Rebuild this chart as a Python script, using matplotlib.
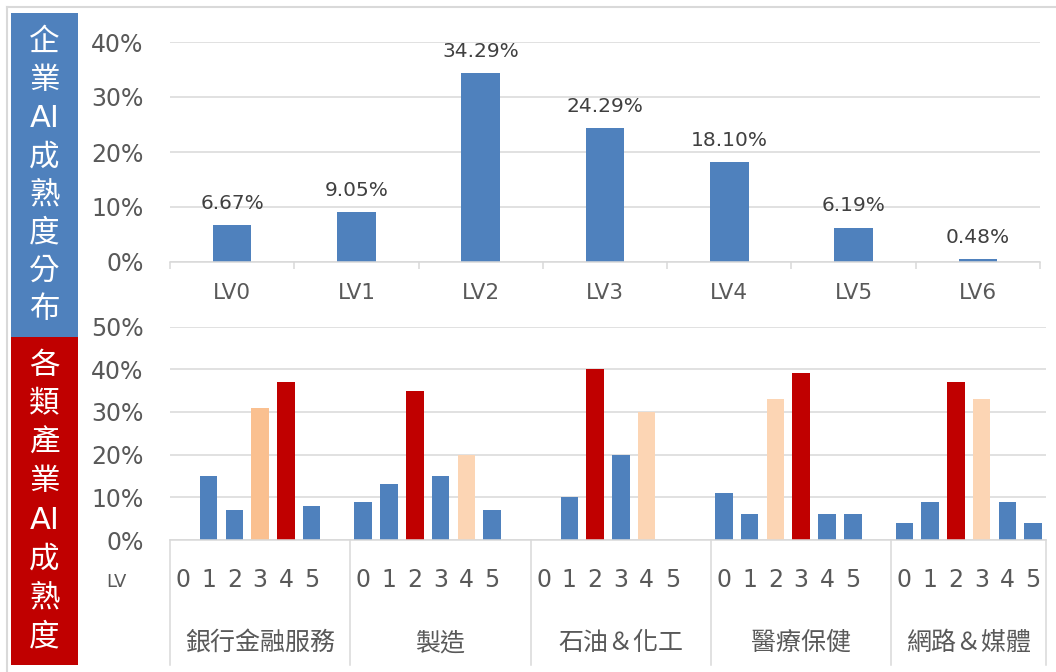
import matplotlib
matplotlib.use("Agg")
import matplotlib.pyplot as plt
import matplotlib.transforms as mtransforms
from matplotlib.ticker import PercentFormatter, FixedLocator

plt.rcParams["font.family"] = ["DejaVu Sans", "Noto Sans CJK TC"]

# --- Data ---
levels = ["LV0", "LV1", "LV2", "LV3", "LV4", "LV5", "LV6"]
distribution = [6.67, 9.05, 34.29, 24.29, 18.10, 6.19, 0.48]

industries = ["銀行金融服務", "製造", "石油＆化工", "醫療保健", "網路＆媒體"]
sub_levels = ["0", "1", "2", "3", "4", "5"]
banking = [0, 15, 7, 31, 37, 8]
manufacturing = [9, 13, 35, 15, 20, 7]
petrochem = [0, 10, 40, 20, 30, 0]
healthcare = [11, 6, 33, 39, 6, 6]
media = [4, 9, 37, 33, 9, 4]
industry_values = [banking, manufacturing, petrochem, healthcare, media]

top_title = ["企", "業", "AI", "成", "熟", "度", "分", "布"]
bottom_title = ["各", "類", "產", "業", "AI", "成", "熟", "度"]

# --- Styles ---
BLUE = "#4F81BD"
RED = "#C00000"
PEACH = "#FAC090"
LIGHT_PEACH = "#FCD5B4"
GRID = "#D9D9D9"
TEXT = "#595959"
LABEL = "#404040"
industry_colors = [
    [BLUE, BLUE, BLUE, PEACH, RED, BLUE],
    [BLUE, BLUE, RED, BLUE, LIGHT_PEACH, BLUE],
    [BLUE, BLUE, RED, BLUE, LIGHT_PEACH, BLUE],
    [BLUE, BLUE, LIGHT_PEACH, RED, BLUE, BLUE],
    [BLUE, BLUE, RED, LIGHT_PEACH, BLUE, BLUE],
]

W, H = 1056, 672


def px(x0, y0, x1, y1):
    """Pixel box (top-left origin) to figure fraction rect."""
    return [x0 / W, 1 - y1 / H, (x1 - x0) / W, (y1 - y0) / H]


fig = plt.figure(figsize=(W / 100, H / 100), dpi=100)

# outer frame (left and top edges visible)
fig.add_artist(plt.Line2D([7 / W, 7 / W], [0, 1 - 7 / H], transform=fig.transFigure, color=GRID, lw=1.5))
fig.add_artist(plt.Line2D([7 / W, 1], [1 - 7 / H, 1 - 7 / H], transform=fig.transFigure, color=GRID, lw=1.5))

# side panels
fig.add_artist(plt.Rectangle((11 / W, 1 - 337 / H), 67 / W, 324 / H, transform=fig.transFigure, color=BLUE, lw=0))
fig.add_artist(plt.Rectangle((11 / W, 1 - 665 / H), 67 / W, 328 / H, transform=fig.transFigure, color=RED, lw=0))
for i, ch in enumerate(top_title):
    fig.text(44.5 / W, 1 - (42 + i * 38.2) / H, ch, color="white", fontsize=22,
             ha="center", va="center")
for i, ch in enumerate(bottom_title):
    fig.text(44.5 / W, 1 - (365 + i * 38.9) / H, ch, color="white", fontsize=22,
             ha="center", va="center")


def style_axis(ax, ymax):
    ax.set_ylim(0, ymax)
    ax.yaxis.set_major_locator(FixedLocator(list(range(0, ymax + 1, 10))))
    ax.yaxis.set_major_formatter(PercentFormatter(100, decimals=0))
    ax.grid(axis="y", color=GRID, lw=1.1)
    ax.set_axisbelow(True)
    for s in ["left", "right", "top"]:
        ax.spines[s].set_visible(False)
    ax.spines["bottom"].set_color(GRID)
    ax.spines["bottom"].set_linewidth(1.1)
    ax.tick_params(axis="y", length=0, pad=19, labelsize=17, labelcolor=TEXT)


# --- Top chart: overall distribution ---
ax1 = fig.add_axes(px(170, 42, 1040, 262))
x_top = list(range(len(levels)))
bars = ax1.bar(x_top, distribution, width=0.31, color=BLUE)
ax1.set_xlim(-0.5, len(levels) - 0.5)
style_axis(ax1, 40)
ax1.set_xticks(x_top)
ax1.set_xticklabels(levels)
ax1.tick_params(axis="x", which="major", length=0, pad=15, labelsize=15.5, labelcolor=TEXT)
ax1.set_xticks([i - 0.5 for i in range(len(levels) + 1)], minor=True)
ax1.tick_params(axis="x", which="minor", length=5, width=1.1, color=GRID, direction="out")
for b, v in zip(bars, distribution):
    ax1.annotate(f"{v:.2f}%", (b.get_x() + b.get_width() / 2, v), xytext=(0, 9),
                 textcoords="offset points", ha="center", va="bottom",
                 fontsize=14.5, color=LABEL, annotation_clip=False)

# --- Bottom chart: per-industry distribution ---
ax2 = fig.add_axes(px(170, 326.5, 1046, 540))
slot = len(sub_levels) + 1
positions, labels = [], []
for g, (vals, cols) in enumerate(zip(industry_values, industry_colors)):
    xs = [g * slot + s for s in range(len(vals))]
    ax2.bar(xs, vals, width=0.68, color=cols)
    positions += xs
    labels += sub_levels
n_slots = len(industries) * slot - 1
ax2.set_xlim(-0.5, n_slots - 0.5)
style_axis(ax2, 50)
ax2.set_xticks(positions)
ax2.set_xticklabels(labels)
ax2.tick_params(axis="x", length=0, pad=20, labelsize=17, labelcolor=TEXT)

# multi-level category boxes
trans = mtransforms.blended_transform_factory(ax2.transData, ax2.transAxes)
depth = (665 - 540) / 213.5
edges = [min(g * slot, n_slots) - 0.5 for g in range(len(industries) + 1)]
for xb in edges:
    ax2.add_artist(plt.Line2D([xb, xb], [0, -depth], transform=trans, color=GRID, lw=1.1, clip_on=False))
for g, name in enumerate(industries):
    ax2.text((edges[g] + edges[g + 1]) / 2, -(643 - 540) / 213.5, name, transform=trans,
             ha="center", va="center", fontsize=18, color=TEXT)
fig.text(116 / W, 1 - 582 / H, "LV", fontsize=13, color=TEXT, ha="center", va="center")

fig.savefig("out.png", dpi=100)
